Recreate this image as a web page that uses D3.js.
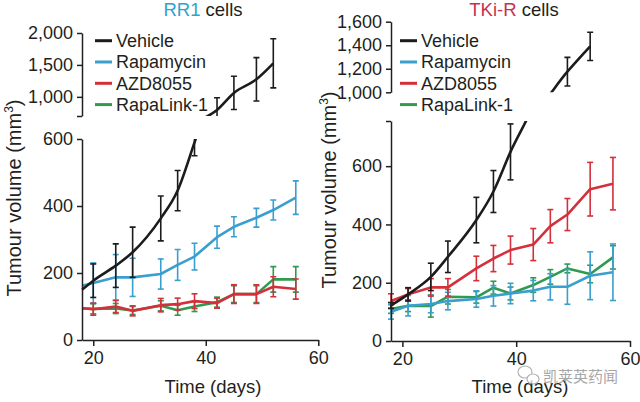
<!DOCTYPE html>
<html><head><meta charset="utf-8">
<script src="https://cdn.jsdelivr.net/npm/d3@7"></script>
<style>
body{margin:0;background:#fff}
svg{display:block}
text{font-family:"Liberation Sans",Arial,Helvetica,sans-serif;fill:#231f20}
</style>
</head><body><svg id="c" width="640" height="402"></svg>
<script>
// ---------- data ----------
const seriesNames = ["Vehicle", "Rapamycin", "AZD8055", "RapaLink-1"];
const seriesColors = ["#1c1c1c", "#3a9fcf", "#d3303b", "#2f9a50"];
const xTickValues = [20, 40, 60];

// RR1 cells
const rr1VehicleDays = [18, 20, 24, 27, 32, 35, 38, 42, 45, 49, 52];
const rr1Vehicle     = [150, 177, 222, 262, 363, 446, 590, 795, 1062, 1275, 1525];
const rr1VehicleErr  = [0, 50, 65, 75, 67, 60, 40, 190, 260, 340, 385];
const rr1Days        = [18, 20, 24, 27, 32, 35, 38, 42, 45, 49, 52, 56];
const rr1Rapamycin   = [162, 170, 187, 187, 197, 224, 249, 307, 338, 365, 388, 425];
const rr1RapamycinErr= [0, 60, 68, 57, 45, 46, 40, 33, 30, 28, 30, 50];
const rr1AZD         = [95, 92, 100, 87, 104, 107, 116, 110, 137, 137, 159, 152];
const rr1AZDErr      = [0, 18, 18, 15, 20, 18, 22, 15, 28, 28, 30, 30];
const rr1Rapalink    = [95, 93, 94, 88, 102, 89, 100, 113, 137, 137, 181, 181];
const rr1RapalinkErr = [0, 15, 15, 12, 15, 15, 15, 15, 25, 25, 38, 38];
const rr1LowerTicks  = [0, 200, 400, 600];
const rr1UpperTicks  = [700, 1000, 1500, 2000];

// TKi-R cells
const tkiVehicleDays = [18, 21, 25, 28, 33, 36, 39, 43, 49, 53];
const tkiVehicle     = [122, 160, 220, 289, 415, 513, 649, 810, 1175, 1390];
const tkiVehicleErr  = [10, 23, 47, 54, 78, 72, 96, 50, 122, 120];
const tkiDays        = [18, 21, 25, 28, 33, 36, 39, 43, 46, 49, 53, 57];
const tkiRapamycin   = [100, 121, 127, 137, 144, 155, 163, 173, 186, 186, 224, 236];
const tkiRapamycinErr= [25, 35, 30, 30, 28, 35, 35, 35, 45, 60, 82, 97];
const tkiAZD         = [137, 160, 184, 184, 249, 283, 312, 331, 394, 434, 521, 540];
const tkiAZDErr      = [25, 20, 30, 30, 42, 45, 48, 55, 57, 55, 92, 90];
const tkiRapalink    = [110, 121, 120, 152, 150, 183, 163, 192, 220, 249, 230, 287];
const tkiRapalinkErr = [15, 20, 38, 25, 20, 22, 22, 25, 25, 15, 30, 40];
const tkiLowerTicks  = [0, 200, 400, 600, 755];
const tkiUpperTicks  = [1000, 1200, 1400, 1600];

// ---------- drawing ----------
const svg = d3.select("#c");
const fmt = d3.format(",");
let clipId = 0;

function makeSeries(days, vals, errs, idx) {
  return {data: days.map((d, i) => ({d, v: vals[i], e: errs[i]})), color: seriesColors[idx], idx};
}

function drawPanel(o) {
  const g = svg.append("g");
  const x = d3.scaleLinear().domain([18, 60]).range(o.xRange);
  const segs = [
    {y: d3.scaleLinear().domain(o.lowerDomain).range(o.lowerRange), ticks: o.lowerTicks, labelled: o.lowerLabelled},
    {y: d3.scaleLinear().domain(o.upperDomain).range(o.upperRange), ticks: o.upperTicks, labelled: o.upperLabelled}
  ];
  const order = [3, 1, 2, 0];
  segs.forEach(s => {
    const id = "clip" + (clipId++);
    const r = s.y.range();
    svg.append("clipPath").attr("id", id).append("rect")
      .attr("x", o.xRange[0] - 6).attr("y", Math.min(r[0], r[1]))
      .attr("width", o.xRange[1] - o.xRange[0] + 12).attr("height", Math.abs(r[0] - r[1]));
    const cg = g.append("g").attr("clip-path", `url(#${id})`);
    order.forEach(k => {
      const se = o.series[k];
      const line = d3.line().x(p => x(p.d)).y(p => s.y(p.v))
        .curve(k === 0 ? d3.curveMonotoneX : d3.curveLinear);
      const eg = cg.append("g").attr("stroke", se.color).attr("stroke-width", 1.6).attr("fill", "none");
      se.data.filter(p => p.e > 0).forEach(p => {
        const xx = x(p.d), y1 = s.y(p.v - p.e), y2 = s.y(p.v + p.e);
        eg.append("line").attr("x1", xx).attr("x2", xx).attr("y1", y1).attr("y2", y2);
        eg.append("line").attr("x1", xx - 3).attr("x2", xx + 3).attr("y1", y1).attr("y2", y1);
        eg.append("line").attr("x1", xx - 3).attr("x2", xx + 3).attr("y1", y2).attr("y2", y2);
      });
      cg.append("path").attr("d", line(se.data)).attr("fill", "none")
        .attr("stroke", se.color).attr("stroke-width", 2.6).attr("stroke-linejoin", "round");
    });
    const ax = g.append("g").attr("transform", `translate(${o.xRange[0]},0)`)
      .call(d3.axisLeft(s.y).tickValues(s.ticks).tickSize(5).tickSizeOuter(0).tickPadding(4)
        .tickFormat(v => s.labelled.includes(v) ? fmt(v) : ""));
    styleAxis(ax);
  });
  const xa = g.append("g").attr("transform", `translate(0,${o.lowerRange[0]})`)
    .call(d3.axisBottom(x).tickValues(xTickValues).tickSize(6).tickSizeOuter(0).tickPadding(5));
  styleAxis(xa);

  // title
  const t = g.append("text").attr("x", o.titleX).attr("y", 16).attr("text-anchor", "middle")
    .style("font-size", "18.5px");
  t.append("tspan").text(o.titleA).style("fill", o.titleColor);
  t.append("tspan").text(" cells");

  // legend
  seriesNames.forEach((n, i) => {
    const yy = 40.7 + i * 21.3;
    g.append("line").attr("x1", o.legendX).attr("x2", o.legendX + 17).attr("y1", yy).attr("y2", yy)
      .attr("stroke", seriesColors[i]).attr("stroke-width", 3);
    g.append("text").attr("x", o.legendX + 21).attr("y", yy + 6.3).text(n).style("font-size", "18px");
  });

  // y label
  const yl = g.append("text").attr("transform", `translate(${o.ylabelX},${o.ylabelY}) rotate(-90)`)
    .attr("text-anchor", "middle").style("font-size", "20px");
  yl.append("tspan").text("Tumour volume (mm");
  yl.append("tspan").text("3").attr("dy", -8).style("font-size", "12px");
  yl.append("tspan").text(")").attr("dy", 8);

  // x label
  g.append("text").attr("x", o.xlabelX).attr("y", 393).attr("text-anchor", "middle")
    .style("font-size", "18.5px").text("Time (days)");
}

function styleAxis(a) {
  a.select(".domain").attr("stroke", "#231f20").attr("stroke-width", 1.5);
  a.selectAll(".tick line").attr("stroke", "#231f20").attr("stroke-width", 1.5);
  a.selectAll(".tick text").style("font-size", "18px")
    .style("font-family", '"Liberation Sans",Arial,Helvetica,sans-serif').attr("fill", "#231f20");
}

drawPanel({
  xRange: [82, 318.3],
  lowerDomain: [0, 600], lowerRange: [340, 139], lowerTicks: rr1LowerTicks, lowerLabelled: [0, 200, 400, 600],
  upperDomain: [700, 2000], upperRange: [116, 33], upperTicks: rr1UpperTicks, upperLabelled: [1000, 1500, 2000],
  series: [
    makeSeries(rr1VehicleDays, rr1Vehicle, rr1VehicleErr, 0),
    makeSeries(rr1Days, rr1Rapamycin, rr1RapamycinErr, 1),
    makeSeries(rr1Days, rr1AZD, rr1AZDErr, 2),
    makeSeries(rr1Days, rr1Rapalink, rr1RapalinkErr, 3)
  ],
  titleX: 203, titleA: "RR1", titleColor: "#2ea3cc",
  legendX: 95, ylabelX: 21, ylabelY: 198, xlabelX: 213
});

drawPanel({
  xRange: [391, 630],
  lowerDomain: [0, 755], lowerRange: [341, 121], lowerTicks: tkiLowerTicks, lowerLabelled: [0, 200, 400, 600],
  upperDomain: [1000, 1600], upperRange: [92.3, 21.7], upperTicks: tkiUpperTicks, upperLabelled: [1000, 1200, 1400, 1600],
  series: [
    makeSeries(tkiVehicleDays, tkiVehicle, tkiVehicleErr, 0),
    makeSeries(tkiDays, tkiRapamycin, tkiRapamycinErr, 1),
    makeSeries(tkiDays, tkiAZD, tkiAZDErr, 2),
    makeSeries(tkiDays, tkiRapalink, tkiRapalinkErr, 3)
  ],
  titleX: 514, titleA: "TKi-R", titleColor: "#c8324a",
  legendX: 400, ylabelX: 336, ylabelY: 190, xlabelX: 520
});

// watermark
const wm = svg.append("g").attr("opacity", 0.75);
wm.append("ellipse").attr("cx", 525).attr("cy", 372).attr("rx", 7).attr("ry", 6)
  .attr("fill", "none").attr("stroke", "#9a9a9a").attr("stroke-width", 1.2);
wm.append("ellipse").attr("cx", 533).attr("cy", 379).attr("rx", 6).attr("ry", 5)
  .attr("fill", "#fff").attr("stroke", "#9a9a9a").attr("stroke-width", 1.2);
wm.append("text").attr("x", 543).attr("y", 382).text("凯莱英药闻")
  .style("font-family", '"Noto Sans CJK SC",sans-serif').style("font-size", "15px").style("fill", "#8a8a8a");
</script>
</body></html>
